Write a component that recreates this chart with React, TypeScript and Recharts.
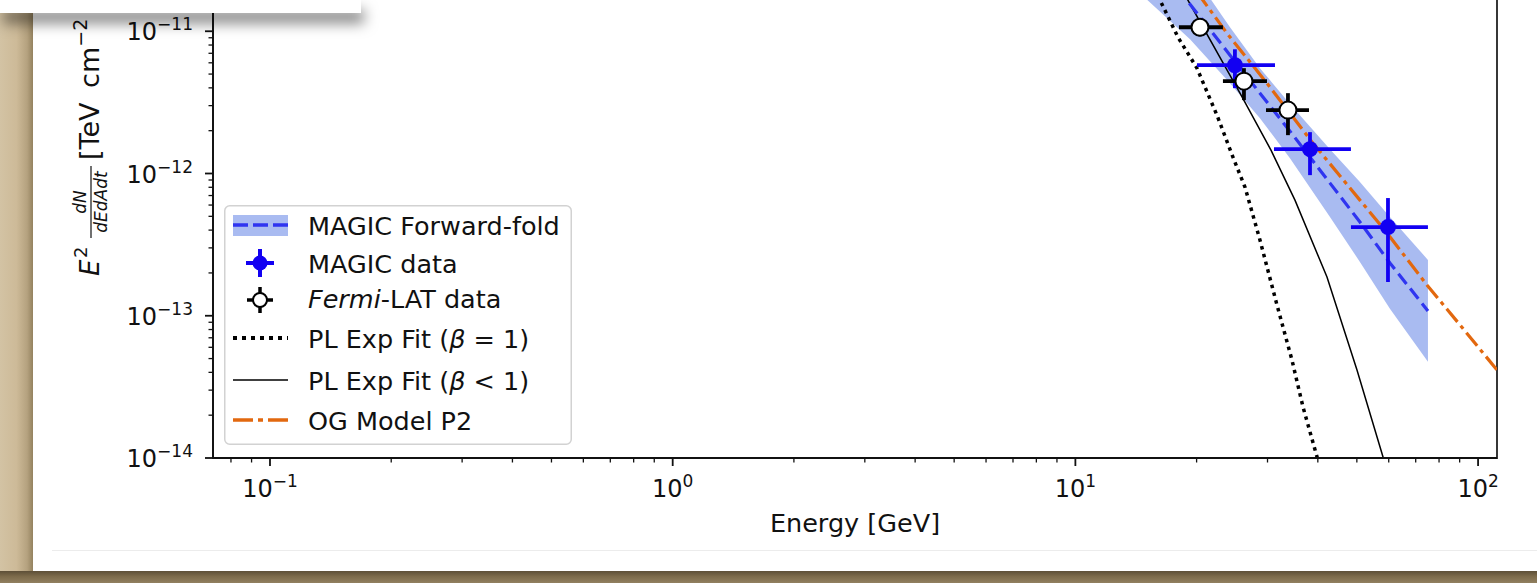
import React from "react";
import {
  ComposedChart,
  Line,
  Area,
  Scatter,
  ErrorBar,
  XAxis,
  YAxis,
  Legend,
  Label,
  ReferenceArea,
} from "recharts";

// MAGIC forward-folding fit: best fit and its band (GeV, TeV cm^-2 s^-1)
const FF_E = [14.47, 19.26, 24.21, 28.73, 34.11, 42.88, 50.89, 60.41, 75.08];
const FF_F = [4.02e-11, 1.549e-11, 6.79e-12, 3.67e-12, 1.985e-12, 8.56e-13, 4.56e-13, 2.35e-13, 1.08e-13];
const FF_LO = [1.85e-11, 8.79e-12, 4.31e-12, 2.45e-12, 1.28e-12, 4.94e-13, 2.39e-13, 1.12e-13, 4.74e-14];
const FF_HI = [8.73e-11, 2.73e-11, 1.067e-11, 5.5e-12, 3.08e-12, 1.48e-12, 8.71e-13, 4.94e-13, 2.47e-13];

// MAGIC data points
const MAGIC_E = [24.9, 38.25, 59.74];
const MAGIC_E_LO = [20.04, 31.13, 48.34];
const MAGIC_E_HI = [31.31, 48.34, 75.08];
const MAGIC_F = [5.77e-12, 1.483e-12, 4.2e-13];
const MAGIC_F_LO = [3.98e-12, 9.74e-13, 1.727e-13];
const MAGIC_F_HI = [7.47e-12, 1.953e-12, 6.72e-13];

// Fermi-LAT data points
const LAT_E = [20.39, 26.22, 33.72];
const LAT_E_LO = [18.08, 23.25, 29.74];
const LAT_E_HI = [23.25, 29.91, 38.03];
const LAT_F = [1.067e-11, 4.46e-12, 2.79e-12];
const LAT_F_LO = [9.22e-12, 3.28e-12, 1.86e-12];
const LAT_F_HI = [1.214e-11, 5.5e-12, 3.67e-12];

// PL Exp fit, beta = 1
const PLE1_E = [11.51, 13.66, 16.23, 17.98, 20.04, 22.47, 24.62, 26.37, 28.73, 31.67, 34.5, 36.74, 39.81, 40.5];
const PLE1_F = [8.32e-11, 3.15e-11, 1.651e-11, 9.08e-12, 5.5e-12, 2.57e-12, 1.303e-12, 8.03e-13, 3.41e-13, 1.19e-13, 4.89e-14, 2.29e-14, 1.02e-14, 8.26e-15];

// PL Exp fit, beta < 1
const PLEB_E = [12.9, 15.32, 19.04, 25.63, 30.6, 35.1, 42.15, 50.04, 58.05, 59.05];
const PLEB_F = [8.32e-11, 4.36e-11, 1.651e-11, 3.67e-12, 1.46e-12, 6.5e-13, 1.87e-13, 4.16e-14, 1.02e-14, 8.26e-15];

// OG model P2
const OG_E = [12.9, 16.23, 20.74, 23.79, 29.91, 38.9, 50.89, 59.39, 74.65, 90.18, 111.4, 120];
const OG_F = [9.02e-11, 4.02e-11, 1.651e-11, 9.68e-12, 4.31e-12, 1.634e-12, 6.5e-13, 3.82e-13, 1.645e-13, 8.62e-14, 4.16e-14, 3.21e-14];

const X_DOMAIN = [0.07219, 111.43];
const Y_DOMAIN = [1e-14, 1e-10];
const X_TICKS = [
  0.08, 0.09, 0.1, 0.2, 0.3, 0.4, 0.5, 0.6, 0.7, 0.8, 0.9,
  1, 2, 3, 4, 5, 6, 7, 8, 9,
  10, 20, 30, 40, 50, 60, 70, 80, 90, 100,
];
const Y_DECADES = [1e-14, 1e-13, 1e-12, 1e-11];
const MINOR_STEPS = [1, 2, 3, 4, 5, 6, 7, 8, 9];
const Y_TICKS = Y_DECADES.flatMap((d) => MINOR_STEPS.map((m) => m * d));

const BLUE = "#1200f2";
const BAND = "#4169e1";
const DASH_BLUE = "#2f35f0";
const ORANGE = "#e2680f";
const INK = "#111";
const FONT = "DejaVu Sans";
const TXT = 25.5;

const line = (es: number[], fs: number[]) => es.map((e, i) => ({ e, f: fs[i] }));
const band = FF_E.map((e, i) => ({ e, f: [FF_LO[i], FF_HI[i]] }));
const points = (es: number[], elo: number[], ehi: number[], fs: number[], flo: number[], fhi: number[]) =>
  es.map((e, i) => ({
    e,
    f: fs[i],
    ex: [e - elo[i], ehi[i] - e],
    ey: [fs[i] - flo[i], fhi[i] - fs[i]],
  }));

const magic = points(MAGIC_E, MAGIC_E_LO, MAGIC_E_HI, MAGIC_F, MAGIC_F_LO, MAGIC_F_HI);
const lat = points(LAT_E, LAT_E_LO, LAT_E_HI, LAT_F, LAT_F_LO, LAT_F_HI);

const isMajor = (v: number) => {
  const p = Math.log10(v);
  return Math.abs(p - Math.round(p)) < 1e-6;
};
const expText = (v: number) => {
  const n = Math.round(Math.log10(v));
  return n < 0 ? "\u2212" + -n : String(n);
};

function XTick(props: any) {
  const { x, y, payload } = props;
  const major = isMajor(payload.value);
  return (
    <g>
      <line x1={x} x2={x} y1={y} y2={y + (major ? 8 : 4.5)} stroke={INK} strokeWidth={major ? 1.8 : 1.3} />
      {major && (
        <text x={x} y={y + 39} textAnchor="middle" fontSize={24} fill={INK} fontFamily={FONT}>
          10
          <tspan dy={-10} fontSize={17}>
            {expText(payload.value)}
          </tspan>
        </text>
      )}
    </g>
  );
}

function YTick(props: any) {
  const { x, y, payload } = props;
  const major = isMajor(payload.value);
  return (
    <g>
      <line x1={x} x2={x - (major ? 8 : 4.5)} y1={y} y2={y} stroke={INK} strokeWidth={major ? 1.8 : 1.3} />
      {major && (
        <text x={x - 20} y={y + 9} textAnchor="end" fontSize={24} fill={INK} fontFamily={FONT}>
          10
          <tspan dy={-10} fontSize={17}>
            {expText(payload.value)}
          </tspan>
        </text>
      )}
    </g>
  );
}

function XLabel(props: any) {
  const vb = props.viewBox;
  return (
    <text x={vb.x + vb.width / 2} y={vb.y + 74} textAnchor="middle" fontSize={TXT} fill={INK} fontFamily={FONT}>
      Energy [GeV]
    </text>
  );
}

function YLabel() {
  return (
    <g transform="translate(99, 416) rotate(-90)" fill={INK} fontFamily={FONT}>
      <text x={0} y={0} fontSize={26} fontStyle="italic">
        E
      </text>
      <text x={18} y={-12} fontSize={18}>
        2
      </text>
      <line x1={38} x2={110} y1={-8} y2={-8} stroke={INK} strokeWidth={1.2} />
      <text x={74} y={-13} fontSize={17} fontStyle="italic" textAnchor="middle">
        dN
      </text>
      <text x={74} y={8} fontSize={17} fontStyle="italic" textAnchor="middle">
        dEdAdt
      </text>
      <text x={116} y={0} fontSize={27} wordSpacing={6}>
        [TeV cm
        <tspan dy={-12} fontSize={19}>
          {"\u22122"}
        </tspan>
        <tspan dy={12}> s</tspan>
        <tspan dy={-12} fontSize={19}>
          {"\u22121"}
        </tspan>
        <tspan dy={12}>]</tspan>
      </text>
    </g>
  );
}

function LegendBox() {
  const tx = 84;
  return (
    <svg width={348} height={240} style={{ display: "block", fontFamily: FONT }}>
      <rect x={0.75} y={0.75} width={346.5} height={238.5} rx={5} fill="#fff" fillOpacity={0.85} stroke="#d2d2d2" strokeWidth={1.5} />
      {/* forward fold */}
      <rect x={9} y={10} width={55} height={21} fill={BAND} fillOpacity={0.45} />
      <line x1={9} x2={64} y1={20} y2={20} stroke={DASH_BLUE} strokeWidth={3.5} strokeDasharray="15 5" />
      <text x={tx} y={30} fontSize={TXT} fill={INK}>MAGIC Forward-fold</text>
      {/* magic data */}
      <line x1={22} x2={50} y1={58} y2={58} stroke={BLUE} strokeWidth={4} />
      <line x1={36} x2={36} y1={44} y2={72} stroke={BLUE} strokeWidth={4} />
      <circle cx={36} cy={58} r={7.5} fill={BLUE} />
      <text x={tx} y={68} fontSize={TXT} fill={INK}>MAGIC data</text>
      {/* fermi data */}
      <line x1={23} x2={49} y1={95} y2={95} stroke="#000" strokeWidth={3.5} />
      <line x1={36} x2={36} y1={82} y2={108} stroke="#000" strokeWidth={3.5} />
      <circle cx={36} cy={95} r={7} fill="#fff" stroke="#000" strokeWidth={2} />
      <text x={tx} y={103} fontSize={TXT} fill={INK}>
        <tspan fontStyle="italic">Fermi</tspan>-LAT data
      </text>
      {/* PL exp beta=1 */}
      <line x1={9} x2={64} y1={133} y2={133} stroke="#000" strokeWidth={4} strokeDasharray="4 5" />
      <text x={tx} y={143} fontSize={TXT} fill={INK}>
        PL Exp Fit (<tspan fontStyle="italic">β</tspan> = 1)
      </text>
      {/* PL exp beta<1 */}
      <line x1={9} x2={64} y1={175} y2={175} stroke="#000" strokeWidth={1.5} />
      <text x={tx} y={185} fontSize={TXT} fill={INK}>
        PL Exp Fit (<tspan fontStyle="italic">β</tspan> &lt; 1)
      </text>
      {/* OG model */}
      <line x1={9} x2={64} y1={215} y2={215} stroke={ORANGE} strokeWidth={3.5} strokeDasharray="20 5 5 5" />
      <text x={tx} y={225} fontSize={TXT} fill={INK}>OG Model P2</text>
    </svg>
  );
}

const Dot = (fill: string, stroke: string, r: number) => (p: any) =>
  <circle cx={p.cx} cy={p.cy} r={r} fill={fill} stroke={stroke} strokeWidth={stroke === "none" ? 0 : 2} />;

export default function App() {
  return (
    <div
      style={{
        position: "absolute",
        left: 0,
        top: 0,
        width: 1537,
        height: 583,
        overflow: "hidden",
        background: "#c2aa84",
        fontFamily: FONT,
      }}
    >
      <div
        style={{
          position: "absolute",
          left: 0,
          top: 0,
          width: 33,
          height: 583,
          background: "linear-gradient(to right, #d3c3a4, #cdba98 50%, #b5a27f 82%, #94825f)",
        }}
      />
      <div
        style={{
          position: "absolute",
          left: 0,
          top: 571,
          width: 1537,
          height: 12,
          background: "linear-gradient(to bottom, #5d4f37, #7c6a4a 45%, #918060)",
        }}
      />
      <div style={{ position: "absolute", left: 33, top: 0, width: 1504, height: 571, background: "#fff" }} />
      <div style={{ position: "absolute", left: 52, top: 550, width: 1485, height: 1, background: "#ececec" }} />
      <div style={{ position: "absolute", left: 0, top: -140 }}>
        <ComposedChart width={1537} height={723} margin={{ top: 29, right: 40, bottom: 0, left: 0 }}>
          <XAxis
            dataKey="e"
            type="number"
            scale="log"
            domain={X_DOMAIN}
            allowDataOverflow
            ticks={X_TICKS}
            interval={0}
            tick={<XTick />}
            tickLine={false}
            tickSize={0}
            tickMargin={0}
            height={125}
            axisLine={{ stroke: INK, strokeWidth: 1.8 }}
          >
            <Label content={<XLabel />} />
          </XAxis>
          <YAxis
            type="number"
            scale="log"
            domain={Y_DOMAIN}
            allowDataOverflow
            ticks={Y_TICKS}
            interval={0}
            tick={<YTick />}
            tickLine={false}
            tickSize={0}
            tickMargin={0}
            width={213}
            axisLine={{ stroke: INK, strokeWidth: 1.8 }}
          >
            <Label content={<YLabel />} />
          </YAxis>
          <ReferenceArea
            x1={X_DOMAIN[0]}
            x2={X_DOMAIN[1]}
            y1={Y_DOMAIN[0]}
            y2={Y_DOMAIN[1]}
            fill="none"
            stroke="#222"
            strokeWidth={1.8}
            ifOverflow="visible"
          />
          <Line data={line(PLE1_E, PLE1_F)} dataKey="f" type="linear" stroke="#000" strokeWidth={3.5} strokeDasharray="3.5 4.5" dot={false} activeDot={false} isAnimationActive={false} />
          <Line data={line(PLEB_E, PLEB_F)} dataKey="f" type="linear" stroke="#000" strokeWidth={1.5} dot={false} activeDot={false} isAnimationActive={false} />
          <Line data={line(OG_E, OG_F)} dataKey="f" type="linear" stroke={ORANGE} strokeWidth={3.2} strokeDasharray="17 5 4 5" dot={false} activeDot={false} isAnimationActive={false} />
          <Area data={band} dataKey="f" type="linear" stroke="none" fill={BAND} fillOpacity={0.45} dot={false} activeDot={false} isAnimationActive={false} />
          <Line data={line(FF_E, FF_F)} dataKey="f" type="linear" stroke={DASH_BLUE} strokeWidth={3.2} strokeDasharray="13 6" dot={false} activeDot={false} isAnimationActive={false} />
          <Scatter data={magic} dataKey="f" shape={Dot(BLUE, "none", 8)} isAnimationActive={false}>
            <ErrorBar dataKey="ex" direction="x" width={0} stroke={BLUE} strokeWidth={3.8} />
            <ErrorBar dataKey="ey" direction="y" width={0} stroke={BLUE} strokeWidth={3.8} />
          </Scatter>
          <Scatter data={lat} dataKey="f" shape={Dot("#fff", "#000", 8.5)} isAnimationActive={false}>
            <ErrorBar dataKey="ex" direction="x" width={0} stroke="#000" strokeWidth={3.8} />
            <ErrorBar dataKey="ey" direction="y" width={0} stroke="#000" strokeWidth={3.8} />
          </Scatter>
          <Legend
            layout="vertical"
            align="center"
            verticalAlign="middle"
            content={() => <LegendBox />}
            wrapperStyle={{ left: 224, top: 345, width: 348, height: 240 }}
          />
        </ComposedChart>
      </div>
      <div
        style={{
          position: "absolute",
          left: 0,
          top: 0,
          width: 361,
          height: 13,
          background: "#fff",
          boxShadow: "3px 10px 14px rgba(0,0,0,0.5)",
        }}
      />
    </div>
  );
}
